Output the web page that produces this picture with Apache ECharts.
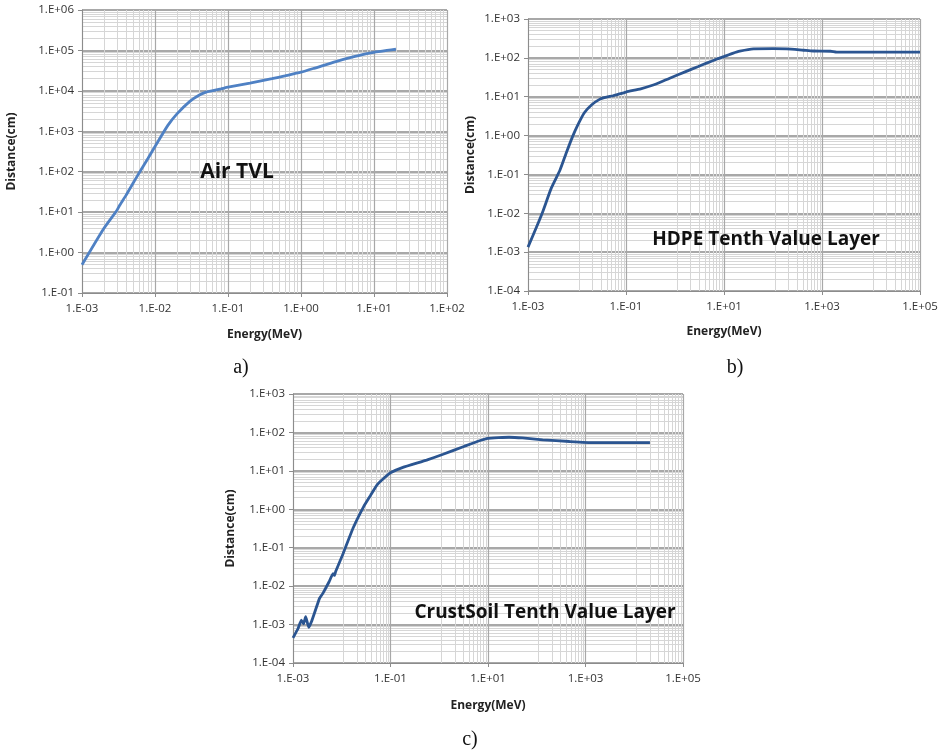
<!DOCTYPE html>
<html>
<head>
<meta charset="utf-8">
<script src="https://cdn.jsdelivr.net/npm/echarts@6/dist/echarts.min.js"></script>
<style>
  html, body { margin: 0; padding: 0; background: #fff; }
  #main { width: 942px; height: 756px; }
</style>
</head>
<body>
<div id="main"></div>
<script>
// a) Air TVL
const airEnergy = [0.001, 0.002, 0.003, 0.0033, 0.004, 0.005, 0.006, 0.008, 0.01, 0.015, 0.02, 0.03, 0.04, 0.05, 0.06, 0.08, 0.1, 0.2, 0.4, 0.6, 1, 1.5, 3, 5, 8, 10, 15, 20];
const airTvl = [0.5, 4.0, 11, 15, 26, 52, 90, 213, 420, 1400, 2700, 5500, 7800, 9300, 10000, 11200, 12300, 15500, 20000, 23500, 29000, 36000, 53000, 68000, 83000, 90000, 100000, 107000];

// b) HDPE Tenth Value Layer
const hdpeEnergy = [0.001, 0.0015, 0.002, 0.003, 0.0045, 0.006, 0.008, 0.01, 0.014, 0.02, 0.03, 0.04, 0.055, 0.1, 0.2, 0.36, 0.5, 0.78, 1.7, 3, 4.4, 7, 10, 15, 21, 40, 100, 190, 420, 660, 1500, 2000, 10000, 100000];
const hdpeTvl = [0.00135, 0.0045, 0.011, 0.045, 0.13, 0.35, 0.9, 1.7, 3.8, 6.2, 8.8, 9.8, 10.6, 13.2, 16, 20, 23.5, 30, 45, 60, 73, 92, 108, 130, 148, 170, 172, 170, 157, 150, 148, 140, 140, 140];

// c) CrustSoil Tenth Value Layer
const soilEnergy = [0.001, 0.00127, 0.00148, 0.00165, 0.00182, 0.0021, 0.0024, 0.0035, 0.0041, 0.0055, 0.0066, 0.0071, 0.0075, 0.0107, 0.017, 0.028, 0.039, 0.053, 0.072, 0.1, 0.18, 0.55, 1.2, 3.2, 6, 10, 27, 51, 132, 470, 1400, 21000];
const soilTvl = [0.00045, 0.00079, 0.0013, 0.00105, 0.0016, 0.00085, 0.0012, 0.0048, 0.0065, 0.013, 0.021, 0.019, 0.024, 0.071, 0.32, 1.16, 2.3, 4.3, 6.3, 8.9, 12.3, 19, 27, 43, 58, 70, 75, 72, 64, 58, 54, 54];

const FONT = '"Open Sans", "Liberation Sans", sans-serif';

function excelExp(v) {
    const e = Math.round(Math.log10(v));
    return '1.E' + (e < 0 ? '-' : '+') + String(Math.abs(e)).padStart(2, '0');
}

function logAxis(gridIndex, min, max, interval, minorSplit, name, isX, nameGap) {
    return {
        type: 'log',
        logBase: 10,
        gridIndex: gridIndex,
        min: min,
        max: max,
        interval: interval,
        name: name,
        nameLocation: 'middle',
        nameGap: nameGap,
        nameTextStyle: { fontFamily: FONT, fontSize: 12, fontWeight: 'bold', color: '#222' },
        axisLine: { show: true, onZero: false, lineStyle: { color: '#8c8c8c', width: 1 } },
        axisTick: { show: true, length: 4, lineStyle: { color: '#8c8c8c' } },
        axisLabel: {
            fontFamily: FONT, fontSize: 11.5, color: '#333',
            margin: isX ? 10 : 8,
            formatter: excelExp,
            showMinLabel: true, showMaxLabel: true
        },
        splitLine: { show: true, lineStyle: { color: '#a8a8a8', width: isX ? 1.2 : 1.8 } },
        minorTick: { show: false, splitNumber: minorSplit },
        minorSplitLine: { show: true, lineStyle: { color: '#d6d6d6', width: 1 } }
    };
}

function label(x, y, text, font) {
    return {
        type: 'text', x: x, y: y, z: 100, zlevel: 1,
        style: { text: text, font: font, fill: '#111', stroke: null, lineWidth: 0, align: 'center', verticalAlign: 'middle' }
    };
}

const chartDom = document.getElementById('main');
const myChart = echarts.init(chartDom);

const option = {
    backgroundColor: '#ffffff',
    animation: false,
    grid: [
        { left: 82, top: 10, width: 365, height: 283 },
        { left: 528, top: 19, width: 392, height: 272 },
        { left: 293, top: 394, width: 390, height: 269 }
    ],
    xAxis: [
        logAxis(0, 0.001, 100, 1, 9, 'Energy(MeV)', true, 36),
        logAxis(1, 0.001, 100000, 2, 10, 'Energy(MeV)', true, 35),
        logAxis(2, 0.001, 100000, 2, 10, 'Energy(MeV)', true, 37)
    ],
    yAxis: [
        logAxis(0, 0.1, 1000000, 1, 9, 'Distance(cm)', false, 64),
        logAxis(1, 0.0001, 1000, 1, 9, 'Distance(cm)', false, 51),
        logAxis(2, 0.0001, 1000, 1, 9, 'Distance(cm)', false, 56)
    ],
    series: [
        {
            type: 'line', xAxisIndex: 0, yAxisIndex: 0,
            data: airEnergy.map((e, i) => [e, airTvl[i]]),
            showSymbol: false, smooth: 0.2,
            lineStyle: { color: '#4f81c4', width: 2.8 }
        },
        {
            type: 'line', xAxisIndex: 1, yAxisIndex: 1,
            data: hdpeEnergy.map((e, i) => [e, hdpeTvl[i]]),
            showSymbol: false, smooth: 0.2,
            lineStyle: { color: '#2b5591', width: 2.8 }
        },
        {
            type: 'line', xAxisIndex: 2, yAxisIndex: 2,
            data: soilEnergy.map((e, i) => [e, soilTvl[i]]),
            showSymbol: false, smooth: 0.1,
            lineStyle: { color: '#2b5591', width: 2.8 }
        }
    ],
    graphic: [
        label(237, 172, 'Air TVL', 'bold 21px ' + FONT),
        label(766, 240, 'HDPE Tenth Value Layer', 'bold 19px ' + FONT),
        label(545, 613, 'CrustSoil Tenth Value Layer', 'bold 19px ' + FONT),
        label(241, 368, 'a)', '20px "Liberation Serif", serif'),
        label(735, 368, 'b)', '20px "Liberation Serif", serif'),
        label(470, 740, 'c)', '20px "Liberation Serif", serif')
    ]
};

myChart.setOption(option);
window.addEventListener('resize', () => {
    myChart.resize();
});
</script>
</body>
</html>
